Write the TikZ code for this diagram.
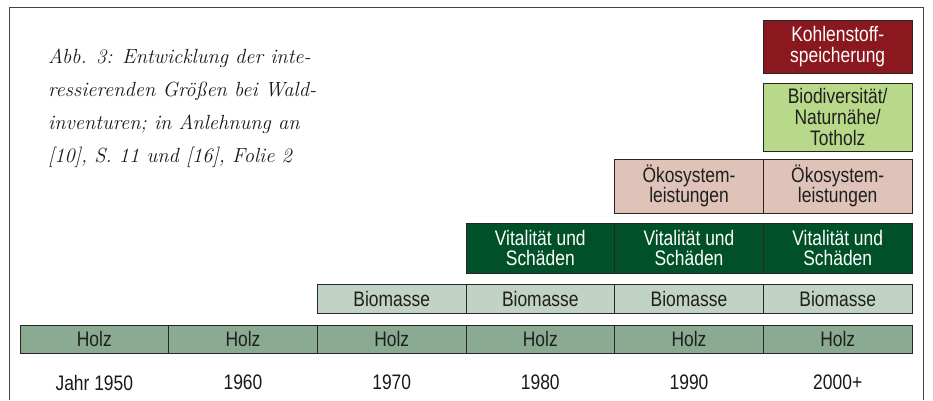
\documentclass[tikz,border=0pt]{standalone}
\usepackage{fontspec}
\usepackage{xcolor}
\usepackage{tikz}
\usetikzlibrary{positioning}
\newfontfamily\condfont[FakeStretch=0.83]{Liberation Sans}

\definecolor{holzgreen}{HTML}{8AAA92}
\definecolor{biogreen}{HTML}{C0D3C4}
\definecolor{vitalgreen}{HTML}{00512A}
\definecolor{oekorose}{HTML}{DFC3B8}
\definecolor{diverslime}{HTML}{B8D98A}
\definecolor{kohlered}{HTML}{8B181E}
\definecolor{framegray}{HTML}{444444}

\tikzset{
  cell/.style={draw=black!85, line width=0.9pt, minimum width=148.67pt,
               inner sep=0pt, align=center, text=black!88,
               font=\condfont\fontsize{21}{20.7}\selectfont},
  darkcell/.style={cell, text=white},
  yearlabel/.style={font=\condfont\fontsize{21}{20.7}\selectfont, text=black!90}
}

\begin{document}
\begin{tikzpicture}[x=1pt,y=-1pt]
\useasboundingbox (0,0) rectangle (933,400);

% frame
\draw[framegray,line width=0.9pt] (9,400) -- (9,7) -- (923,7) -- (923,400);

% caption
\node[anchor=north west,align=left,inner sep=0pt,text=black!90,
      font=\itshape\fontsize{20.5}{33}\selectfont] (caption) at (48,49)
  {Abb. 3: Entwicklung der inte-\\ressierenden Größen bei Wald-\\inventuren; in Anlehnung an\\{[10]}, S. 11 und [16], Folie 2};

% rows
\foreach \i/\x in {1/94.3,2/243,3/391.7,4/540.3,5/689,6/837.7}
  \node[cell,fill=holzgreen,minimum height=28pt] (holz\i) at (\x,339) {Holz};
\foreach \i/\x in {3/391.7,4/540.3,5/689,6/837.7}
  \node[cell,fill=biogreen,minimum height=29pt] (bio\i) at (\x,298.5) {Biomasse};
\foreach \i/\x in {4/540.3,5/689,6/837.7}
  \node[darkcell,fill=vitalgreen,minimum height=50pt] (vital\i) at (\x,248) {Vitalität und\\Schäden};
\foreach \i/\x in {5/689,6/837.7}
  \node[cell,fill=oekorose,minimum height=54pt] (oeko\i) at (\x,186) {Ökosystem-\\leistungen};
\node[cell,fill=diverslime,minimum height=68pt] (divers6) at (837.7,117) {Biodiversität/\\Naturnähe/\\Totholz};
\node[darkcell,fill=kohlered,minimum height=53pt] (kohle6) at (837.7,46.5) {Kohlenstoff-\\speicherung};

% years
\foreach \i/\y in {1/Jahr 1950,2/1960,3/1970,4/1980,5/1990,6/2000+}
  \node[yearlabel,below=18pt of holz\i] (year\i) {\y};
\end{tikzpicture}
\end{document}
